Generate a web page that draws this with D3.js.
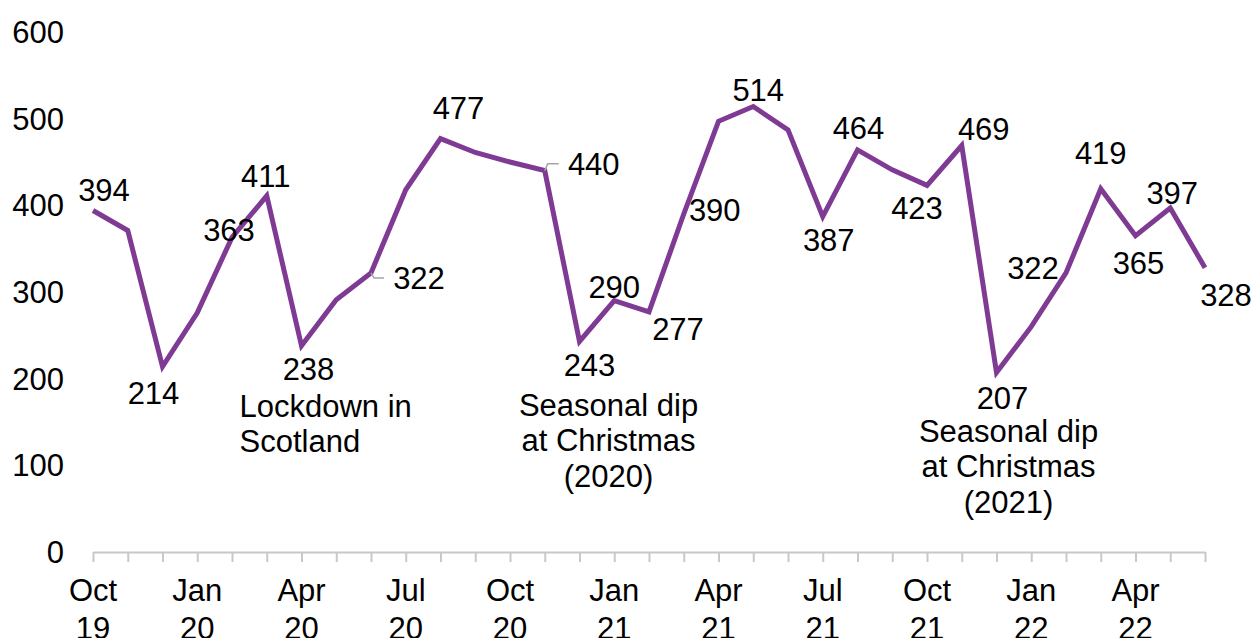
<!DOCTYPE html>
<html>
<head>
<meta charset="utf-8">
<script src="https://cdn.jsdelivr.net/npm/d3@7"></script>
<style>
  html, body { margin: 0; padding: 0; background: #fff; }
  svg { display: block; }
  text { font-family: "Liberation Sans", Arial, sans-serif; fill: #000; }
</style>
</head>
<body>
<svg id="chart" width="1254" height="638"></svg>
<script>
// Monthly series, Oct 2019 – Jun 2022
const months = [
  "Oct 19","Nov 19","Dec 19","Jan 20","Feb 20","Mar 20","Apr 20","May 20","Jun 20",
  "Jul 20","Aug 20","Sep 20","Oct 20","Nov 20","Dec 20","Jan 21","Feb 21","Mar 21",
  "Apr 21","May 21","Jun 21","Jul 21","Aug 21","Sep 21","Oct 21","Nov 21","Dec 21",
  "Jan 22","Feb 22","Mar 22","Apr 22","May 22","Jun 22"
];
const values = [
  394, 371, 214, 276, 363, 411, 238, 291, 322,
  418, 477, 461, 450, 440, 243, 290, 277, 390,
  497, 514, 487, 387, 464, 441, 423, 469, 207,
  260, 322, 419, 365, 397, 328
];
// Months that carry a value label
const labelled = [0, 2, 4, 5, 6, 8, 10, 13, 14, 15, 16, 17, 19, 21, 22, 24, 25, 26, 28, 29, 30, 31, 32];
const yTicks = [0, 100, 200, 300, 400, 500, 600];
const xTickLabels = ["Oct 19","Jan 20","Apr 20","Jul 20","Oct 20","Jan 21","Apr 21","Jul 21","Oct 21","Jan 22","Apr 22"];
const notes = [
  { month: "Apr 20", lines: ["Lockdown in", "Scotland"] },
  { month: "Dec 20", lines: ["Seasonal dip", "at Christmas", "(2020)"] },
  { month: "Dec 21", lines: ["Seasonal dip", "at Christmas", "(2021)"] }
];

// label placement relative to each point: [dx, dy] of text centre
const labelOffset = {
  0: [11, -20], 2: [-9, 27], 4: [-3, -7], 5: [-1, -20], 6: [7, 23], 8: [48, 5],
  10: [18, -30], 13: [49, -7], 14: [10, 24], 15: [0, -14], 16: [29, 17], 17: [31, -4],
  19: [5, -16], 21: [6, 24], 22: [1, -22], 24: [-10, 23], 25: [22, -16], 26: [6, 26],
  28: [-33, -5], 29: [0, -36], 30: [3, 27], 31: [2, -15], 32: [21, 27]
};
const leaders = { 8: true, 13: true };

const svg = d3.select("#chart");
const fontSize = 31;

const x = d3.scalePoint().domain(months).range([93, 1205]);
const y = d3.scaleLinear().domain([0, 600]).range([552, 32]);

// y-axis labels (no axis line)
svg.append("g").selectAll("text").data(yTicks).join("text")
  .attr("x", 64).attr("y", d => y(d)).attr("dy", "0.35em")
  .attr("text-anchor", "end").attr("font-size", fontSize)
  .text(d => d);

// x-axis line with monthly ticks
const xAxis = d3.axisBottom(x).tickSize(10).tickFormat("").tickSizeOuter(0);
const gx = svg.append("g").attr("transform", `translate(0,${y(0)})`).call(xAxis);
gx.selectAll("path, line").attr("stroke", "#c8c8c8").attr("stroke-width", 2);

// two-line quarterly labels
const xl = svg.append("g").selectAll("text").data(xTickLabels).join("text")
  .attr("text-anchor", "middle").attr("font-size", fontSize);
xl.each(function(d) {
  const parts = d.split(" ");
  const t = d3.select(this);
  t.append("tspan").attr("x", x(d)).attr("y", 601).text(parts[0]);
  t.append("tspan").attr("x", x(d)).attr("y", 639).text(parts[1]);
});

// series line
const line = d3.line().x((d, i) => x(months[i])).y(d => y(d));
svg.append("path").datum(values)
  .attr("fill", "none").attr("stroke", "#7f3a94").attr("stroke-width", 5)
  .attr("stroke-linejoin", "miter").attr("d", line);

// leader lines for offset labels
Object.keys(leaders).forEach(k => {
  const i = +k, px = x(months[i]), py = y(values[i]);
  const [dx, dy] = labelOffset[i];
  const ex = px + dx - 35, ey = py + dy;
  svg.append("path")
    .attr("d", `M${px},${py} L${px + 3},${ey} L${ex},${ey}`)
    .attr("fill", "none").attr("stroke", "#a6a6a6").attr("stroke-width", 1.5);
});

// value labels
svg.append("g").selectAll("text").data(labelled).join("text")
  .attr("x", i => x(months[i]) + labelOffset[i][0])
  .attr("y", i => y(values[i]) + labelOffset[i][1])
  .attr("dy", "0.35em").attr("text-anchor", "middle").attr("font-size", fontSize)
  .text(i => values[i]);

// annotations
const noteAnchor = {
  "Apr 20": { dx: -62, y: 406, anchor: "start" },
  "Dec 20": { dx: 29, y: 405, anchor: "middle" },
  "Dec 21": { dx: 12, y: 431, anchor: "middle" }
};
notes.forEach(n => {
  const a = noteAnchor[n.month];
  const t = svg.append("text").attr("font-size", fontSize).attr("text-anchor", a.anchor);
  n.lines.forEach((ln, j) => {
    t.append("tspan").attr("x", x(n.month) + a.dx).attr("y", a.y + j * 35.5)
      .attr("dy", "0.35em").text(ln);
  });
});
</script>
</body>
</html>
